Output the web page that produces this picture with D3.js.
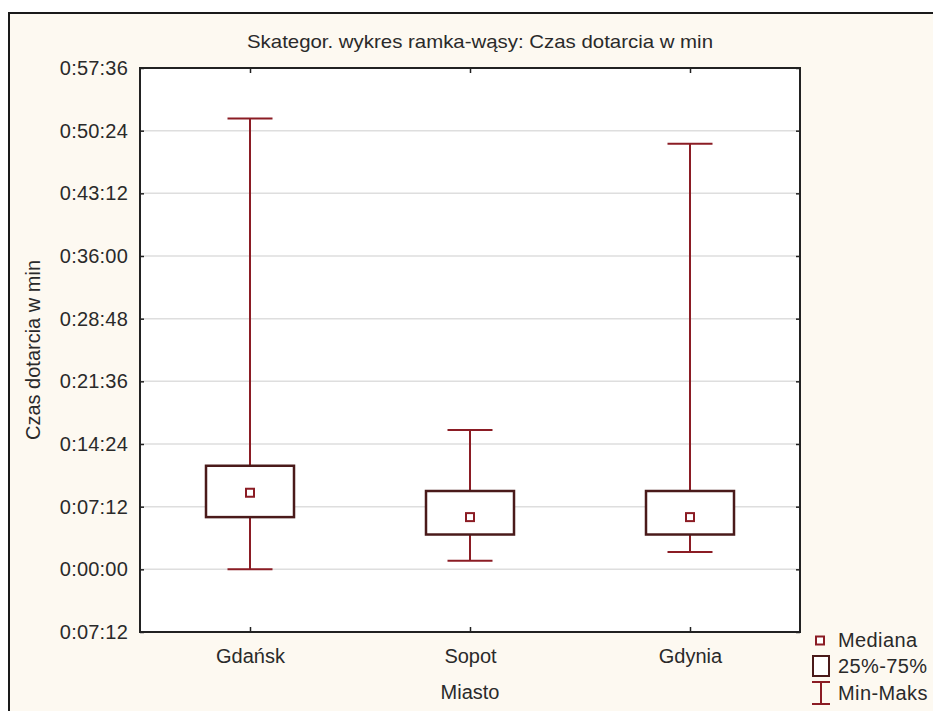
<!DOCTYPE html>
<html>
<head>
<meta charset="utf-8">
<script src="https://cdn.jsdelivr.net/npm/d3@7"></script>
<style>
  html, body { margin: 0; padding: 0; background: #ffffff; }
  svg { display: block; font-family: "Liberation Sans", Arial, sans-serif; }
</style>
</head>
<body>
<svg id="chart" width="933" height="711"></svg>
<script>
// Travel time (minutes) per city: min, quartiles, median, max
const cities = ["Gdańsk", "Sopot", "Gdynia"];
const minVals = [0, 1, 2];
const q1Vals = [6, 4, 4];
const medianVals = [8.8, 6, 6];
const q3Vals = [11.9, 9, 9];
const maxVals = [51.8, 16, 48.9];

// Y axis ticks (minutes) and their printed labels
const tickValues = [-7.2, 0, 7.2, 14.4, 21.6, 28.8, 36, 43.2, 50.4, 57.6];
const tickLabels = ["0:07:12", "0:00:00", "0:07:12", "0:14:24", "0:21:36",
                    "0:28:48", "0:36:00", "0:43:12", "0:50:24", "0:57:36"];

const titleText = "Skategor. wykres ramka-wąsy: Czas dotarcia w min";
const xTitle = "Miasto";
const yTitle = "Czas dotarcia w min";
const legendLabels = ["Mediana", "25%-75%", "Min-Maks"];

const W = 933, H = 711;
const plot = { left: 140, top: 68, right: 800, bottom: 632 };
const whiskerColor = "#8b1c24";
const boxColor = "#4a1a1a";
const textColor = "#2a2a2a";

const svg = d3.select("#chart");

// Outer panel
svg.append("rect")
  .attr("x", 9).attr("y", 13)
  .attr("width", W + 10).attr("height", H + 10)
  .attr("fill", "#fdf9f1")
  .attr("stroke", "#1a1a1a").attr("stroke-width", 2);

// Plot background
svg.append("rect")
  .attr("x", plot.left).attr("y", plot.top)
  .attr("width", plot.right - plot.left).attr("height", plot.bottom - plot.top)
  .attr("fill", "#ffffff");

const x = d3.scalePoint()
  .domain(cities)
  .range([plot.left, plot.right])
  .padding(0.5);

const y = d3.scaleLinear()
  .domain([-7.2, 57.6])
  .range([plot.bottom, plot.top]);

// Gridlines
svg.append("g")
  .selectAll("line")
  .data(tickValues.filter(v => v > -7.2 && v < 57.6))
  .join("line")
  .attr("x1", plot.left).attr("x2", plot.right)
  .attr("y1", d => y(d)).attr("y2", d => y(d))
  .attr("stroke", "#dedede").attr("stroke-width", 1.5);

// Left axis with inward ticks
const yAxis = d3.axisLeft(y)
  .tickValues(tickValues)
  .tickFormat((d, i) => tickLabels[i])
  .tickSizeInner(-4)
  .tickSizeOuter(0)
  .tickPadding(12);

const gy = svg.append("g")
  .attr("transform", `translate(${plot.left},0)`)
  .call(yAxis);
gy.select(".domain").remove();
gy.selectAll(".tick line").attr("stroke", "#222").attr("stroke-width", 1.5);
gy.selectAll(".tick text")
  .attr("fill", textColor)
  .style("font-size", "20px")
  .style("letter-spacing", "0.2px")
  .attr("dy", "0.33em");

// Right axis ticks (inward)
const gyr = svg.append("g")
  .attr("transform", `translate(${plot.right},0)`)
  .call(d3.axisRight(y).tickValues(tickValues).tickFormat("").tickSizeInner(-4).tickSizeOuter(0));
gyr.select(".domain").remove();
gyr.selectAll(".tick line").attr("stroke", "#222").attr("stroke-width", 1.5);

// Bottom axis
const gx = svg.append("g")
  .attr("transform", `translate(0,${plot.bottom})`)
  .call(d3.axisBottom(x).tickSizeInner(-5).tickSizeOuter(0).tickPadding(17));
gx.select(".domain").remove();
gx.selectAll(".tick line").attr("stroke", "#222").attr("stroke-width", 1.5);
gx.selectAll(".tick text")
  .attr("fill", textColor)
  .style("font-size", "20px");

// Top axis ticks
const gxt = svg.append("g")
  .attr("transform", `translate(0,${plot.top})`)
  .call(d3.axisTop(x).tickFormat("").tickSizeInner(-5).tickSizeOuter(0));
gxt.select(".domain").remove();
gxt.selectAll(".tick line").attr("stroke", "#222").attr("stroke-width", 1.5);

// Plot frame
svg.append("rect")
  .attr("x", plot.left).attr("y", plot.top)
  .attr("width", plot.right - plot.left).attr("height", plot.bottom - plot.top)
  .attr("fill", "none")
  .attr("stroke", "#222").attr("stroke-width", 2);

// Box plots
const boxW = 88, capW = 45, medS = 8;
const groups = svg.append("g")
  .selectAll("g")
  .data(cities.map((c, i) => ({
    city: c, min: minVals[i], q1: q1Vals[i], med: medianVals[i], q3: q3Vals[i], max: maxVals[i]
  })))
  .join("g");

// whiskers
groups.append("line")
  .attr("x1", d => x(d.city)).attr("x2", d => x(d.city))
  .attr("y1", d => y(d.max)).attr("y2", d => y(d.q3))
  .attr("stroke", whiskerColor).attr("stroke-width", 2);
groups.append("line")
  .attr("x1", d => x(d.city)).attr("x2", d => x(d.city))
  .attr("y1", d => y(d.q1)).attr("y2", d => y(d.min))
  .attr("stroke", whiskerColor).attr("stroke-width", 2);
// caps
groups.append("line")
  .attr("x1", d => x(d.city) - capW / 2).attr("x2", d => x(d.city) + capW / 2)
  .attr("y1", d => y(d.max)).attr("y2", d => y(d.max))
  .attr("stroke", whiskerColor).attr("stroke-width", 2);
groups.append("line")
  .attr("x1", d => x(d.city) - capW / 2).attr("x2", d => x(d.city) + capW / 2)
  .attr("y1", d => y(d.min)).attr("y2", d => y(d.min))
  .attr("stroke", whiskerColor).attr("stroke-width", 2);
// box
groups.append("rect")
  .attr("x", d => x(d.city) - boxW / 2)
  .attr("y", d => y(d.q3))
  .attr("width", boxW)
  .attr("height", d => y(d.q1) - y(d.q3))
  .attr("fill", "#ffffff")
  .attr("stroke", boxColor).attr("stroke-width", 2.5);
// median marker
groups.append("rect")
  .attr("x", d => x(d.city) - medS / 2)
  .attr("y", d => y(d.med) - medS / 2)
  .attr("width", medS).attr("height", medS)
  .attr("fill", "#ffffff")
  .attr("stroke", whiskerColor).attr("stroke-width", 2);

// Title
svg.append("text")
  .attr("x", 480).attr("y", 48)
  .attr("text-anchor", "middle")
  .attr("fill", textColor)
  .style("font-size", "19px")
  .attr("textLength", 466)
  .attr("lengthAdjust", "spacingAndGlyphs")
  .text(titleText);

// Axis titles
svg.append("text")
  .attr("x", x(cities[1])).attr("y", 699)
  .attr("text-anchor", "middle")
  .attr("fill", textColor)
  .style("font-size", "20px")
  .text(xTitle);

svg.append("text")
  .attr("transform", "translate(40,350) rotate(-90)")
  .attr("text-anchor", "middle")
  .attr("fill", textColor)
  .style("font-size", "20px")
  .text(yTitle);

// Legend
const lg = svg.append("g");
lg.append("rect")
  .attr("x", 816).attr("y", 636.5).attr("width", medS).attr("height", medS)
  .attr("fill", "#ffffff").attr("stroke", whiskerColor).attr("stroke-width", 2);
lg.append("rect")
  .attr("x", 813).attr("y", 656).attr("width", 16).attr("height", 20)
  .attr("fill", "#ffffff").attr("stroke", boxColor).attr("stroke-width", 2);
lg.append("line").attr("x1", 821).attr("x2", 821).attr("y1", 682).attr("y2", 704)
  .attr("stroke", whiskerColor).attr("stroke-width", 2);
lg.append("line").attr("x1", 812).attr("x2", 830).attr("y1", 682).attr("y2", 682)
  .attr("stroke", whiskerColor).attr("stroke-width", 2);
lg.append("line").attr("x1", 812).attr("x2", 830).attr("y1", 704).attr("y2", 704)
  .attr("stroke", whiskerColor).attr("stroke-width", 2);

lg.selectAll("text")
  .data(legendLabels)
  .join("text")
  .attr("x", 838)
  .attr("y", (d, i) => [647, 673, 699.5][i])
  .attr("fill", textColor)
  .style("font-size", "20px")
  .style("letter-spacing", "0.4px")
  .text(d => d);
</script>
</body>
</html>
